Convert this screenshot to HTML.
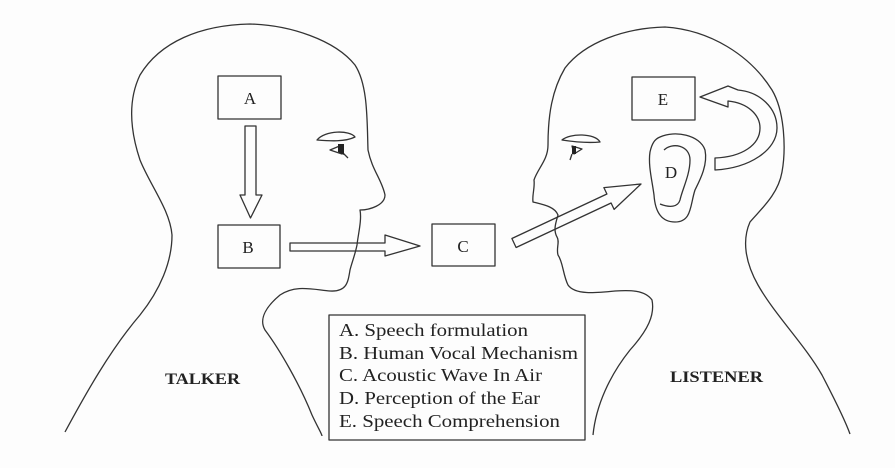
<!DOCTYPE html>
<html><head><meta charset="utf-8"><style>
html,body{margin:0;padding:0;background:#fdfdfd;}
svg{display:block}
text{font-family:"Liberation Serif",serif;fill:#222}
</style></head><body>
<svg width="895" height="468" viewBox="0 0 895 468" xmlns="http://www.w3.org/2000/svg">
<g fill="none" stroke="#333" stroke-width="1.3" stroke-linejoin="round">
<path d="M65,432 C85,395 110,350 140,315 C160,290 172,262 172,235 C170,210 150,185 140,160 C130,130 128,100 140,75 C160,42 200,25 250,24 C290,25 335,40 355,65 C368,85 367,120 368,150 C372,170 382,180 385,195 C385,205 370,210 360,210 C362,220 358,235 357,245 C355,255 352,262 350,270 C348,282 347,292 330,291 C310,289 295,285 280,295 C268,305 258,318 265,330 C280,350 300,385 312,415 C318,428 322,434 322,436"/>
<path d="M593,435 C596,405 610,375 630,350 C648,330 655,315 652,300 C645,290 630,290 615,291 C595,293 575,295 568,285 C563,275 563,262 558,255 C556,248 560,242 557,237 C553,230 556,222 558,215 C555,207 545,205 533,202 C532,195 535,188 534,180 C538,168 548,160 548,145 C548,115 552,90 565,68 C585,42 625,28 665,27 C710,30 750,55 772,90 C785,112 786,150 782,172 C778,195 760,210 750,222 C742,240 745,262 758,285 C775,315 805,345 822,375 C835,400 845,420 850,434"/>
<rect x="218" y="76" width="63" height="43"/>
<rect x="218" y="225" width="62" height="43"/>
<rect x="432" y="224" width="63" height="42"/>
<rect x="632" y="77" width="63" height="43"/>
<rect x="329" y="315" width="256" height="125"/>
<path d="M245,126 L256,126 L256,195 L262,195 L250.5,218 L240,195 L245,195 Z"/>
<path d="M290,243 L385,243 L385,235 L420,246 L385,256 L385,251 L290,251 Z"/>
<path d="M511.9,238.5 L606.9,194 L603.9,187.6 L641,184 L614.1,209.4 L611.1,203 L516.1,247.5 Z"/>
<path d="M715,170 C750,168 777,150 777,128 C777,108 760,92 738,90 L728,86 L700,97 L728,107 L728,101 C748,103 760,115 760,128 C760,145 742,157 715,158 Z"/>
<path d="M660,137 C675,130 700,135 705,150 C708,165 700,180 695,190 C690,205 692,222 675,222 C660,222 655,210 654,195 C652,180 648,165 650,152 C652,143 655,139 660,137 Z"/>
<path d="M664,150 C672,142 690,145 690,160 C690,175 682,190 680,200 C678,207 670,208 660,204"/>
<path d="M317,140 C325,130 350,130 355,137 C345,142 330,141 317,140 Z"/>
<path d="M330,150 L342,145 L342,154 Z M342,152 L348,158"/>
<path d="M562,140 C570,133 595,133 600,142 C590,143 575,142 562,140 Z"/>
<path d="M572,146 L582,149 L574,154 Z M572,154 L570,160"/>
</g>
<path d="M338,144 L344,144 L344,155 L338,152 Z" fill="#222"/>
<path d="M572,146 L576,146 L576,154 L572,154 Z" fill="#222"/>
<g style="font-size:17px">
<text x="250" y="104" text-anchor="middle">A</text>
<text x="248" y="253" text-anchor="middle">B</text>
<text x="463" y="252" text-anchor="middle">C</text>
<text x="663" y="105" text-anchor="middle">E</text>
<text x="671" y="178" text-anchor="middle">D</text>
</g>
<g style="font-size:18px" xml:space="preserve">
<text x="339" y="336" textLength="189" lengthAdjust="spacingAndGlyphs">A.  Speech formulation</text>
<text x="339" y="359" textLength="239" lengthAdjust="spacingAndGlyphs">B.  Human Vocal Mechanism</text>
<text x="339" y="381" textLength="203" lengthAdjust="spacingAndGlyphs">C.  Acoustic Wave In Air</text>
<text x="339" y="404" textLength="201" lengthAdjust="spacingAndGlyphs">D.  Perception of the Ear</text>
<text x="339" y="427" textLength="221" lengthAdjust="spacingAndGlyphs">E.  Speech Comprehension</text>
</g>
<text x="165" y="384" style="font-size:16px;font-weight:bold" textLength="75" lengthAdjust="spacingAndGlyphs">TALKER</text>
<text x="670" y="382" style="font-size:16px;font-weight:bold" textLength="93" lengthAdjust="spacingAndGlyphs">LISTENER</text>
</svg>
</body></html>
